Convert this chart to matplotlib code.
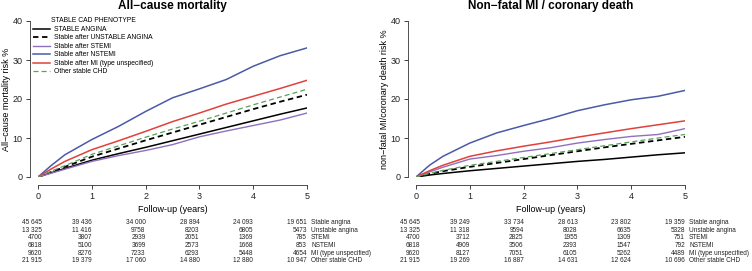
import matplotlib
matplotlib.use("Agg")
import matplotlib.pyplot as plt

plt.rcParams['font.family'] = ['Liberation Sans', 'DejaVu Sans']

# --- follow-up grid (years) ---
years = [0, 0.25, 0.5, 1, 1.5, 2, 2.5, 3, 3.5, 4, 4.5, 5]

# --- cumulative risk %, all-cause mortality ---
mort_angina = [0, 1.1, 2.2, 4.3, 6.0, 7.6, 9.3, 11.0, 12.7, 14.4, 16.1, 17.7]
mort_unstable = [0, 1.3, 2.6, 5.2, 7.3, 9.4, 11.4, 13.4, 15.4, 17.4, 19.3, 21.1]
mort_stemi = [0, 1.0, 2.0, 4.0, 5.5, 6.8, 8.3, 10.3, 11.8, 13.2, 14.6, 16.4]
mort_nstemi = [0, 3.0, 5.7, 9.6, 13.0, 16.8, 20.3, 22.6, 25.0, 28.4, 31.1, 33.1]
mort_mi = [0, 2.1, 4.0, 7.0, 9.3, 11.7, 14.2, 16.4, 18.7, 20.7, 22.7, 24.8]
mort_other = [0, 1.5, 2.9, 5.8, 8.0, 10.2, 12.3, 14.3, 16.4, 18.5, 20.5, 22.5]

# --- cumulative risk %, non-fatal MI / coronary death ---
mi_angina = [0, 0.5, 0.9, 1.6, 2.2, 2.8, 3.4, 4.0, 4.5, 5.1, 5.7, 6.2]
mi_unstable = [0, 0.8, 1.5, 2.6, 3.6, 4.6, 5.6, 6.6, 7.6, 8.5, 9.4, 10.3]
mi_stemi = [0, 1.3, 2.5, 4.6, 5.5, 6.6, 7.5, 8.7, 9.6, 10.4, 10.9, 12.4]
mi_nstemi = [0, 3.0, 5.3, 8.7, 11.3, 13.2, 15.0, 17.0, 18.5, 19.8, 20.7, 22.2]
mi_mi = [0, 1.6, 3.0, 5.3, 6.7, 7.9, 9.0, 10.2, 11.3, 12.4, 13.4, 14.4]
mi_other = [0, 0.9, 1.7, 3.0, 4.0, 5.0, 6.0, 7.0, 8.0, 9.0, 10.0, 10.9]

legend_labels = ["STABLE ANGINA", "Stable after UNSTABLE ANGINA", "Stable after STEMI",
                 "Stable after NSTEMI", "Stable after MI (type unspecified)", "Other stable CHD"]
row_labels = ["Stable angina", "Unstable angina", "STEMI", "NSTEMI",
              "MI (type unspecified)", "Other stable CHD"]

# numbers at risk at 0..5 years
risk_times = [0, 1, 2, 3, 4, 5]
risk_mort = [
    ["45 645", "39 436", "34 000", "28 894", "24 093", "19 651"],
    ["13 325", "11 416", "9758", "8203", "6805", "5473"],
    ["4700", "3807", "2939", "2051", "1369", "785"],
    ["6818", "5100", "3699", "2573", "1668", "853"],
    ["9620", "8276", "7233", "6293", "5448", "4654"],
    ["21 915", "19 379", "17 060", "14 880", "12 880", "10 947"],
]
risk_mi = [
    ["45 645", "39 249", "33 734", "28 613", "23 802", "19 359"],
    ["13 325", "11 318", "9594", "8028", "6635", "5328"],
    ["4700", "3712", "2825", "1955", "1309", "751"],
    ["6818", "4909", "3506", "2393", "1547", "792"],
    ["9620", "8127", "7051", "6105", "5262", "4489"],
    ["21 915", "19 269", "16 887", "14 631", "12 624", "10 696"],
]

styles = [
    dict(color="black", lw=1.1, ls="-"),
    dict(color="black", lw=1.3, ls=(0, (3, 2))),
    dict(color="#8f6fc0", lw=1.0, ls="-"),
    dict(color="#4a5aa8", lw=1.1, ls="-"),
    dict(color="#e0413b", lw=1.1, ls="-"),
    dict(color="#5aa05a", lw=0.9, ls=(0, (4, 2.5))),
]

W, H = 752, 271
fig = plt.figure(figsize=(W / 100, H / 100), dpi=100)


def draw_panel(x_left, title, ylabel, series, risk, show_legend):
    ax = fig.add_axes([x_left / W, 1 - 177 / H, 269 / W, 156 / H])
    handles = []
    for ys, st in zip(series, styles):
        h, = ax.plot(years, ys, **st)
        handles.append(h)
    ax.set_xlim(0, 5)
    ax.set_ylim(0, 40)
    ax.set_xticks(range(6))
    ax.set_yticks([0, 10, 20, 30, 40])
    ax.set_yticklabels(["0", "10", "20", "30", "40"], rotation=90, va="center")
    for s in ["top", "right"]:
        ax.spines[s].set_visible(False)
    ax.spines["left"].set_position(("outward", 6))
    ax.spines["bottom"].set_position(("outward", 6))
    ax.spines["left"].set_bounds(0, 40)
    ax.spines["bottom"].set_bounds(0, 5)
    for s in ["left", "bottom"]:
        ax.spines[s].set_linewidth(0.6)
        ax.spines[s].set_color("#333333")
    ax.tick_params(labelsize=6.5, length=3, width=0.6, pad=2, colors="#222222")
    fig.text((x_left + 134.5) / W, 1 - 6 / H, title, ha="center", va="center",
             fontsize=8.5, fontweight="bold")
    ax.set_xlabel("Follow-up (years)", fontsize=6.5, labelpad=3)
    ax.set_ylabel(ylabel, fontsize=6.5, labelpad=1)

    if show_legend:
        ax.legend(handles, legend_labels, title="STABLE CAD PHENOTYPE",
                  loc="upper left", bbox_to_anchor=(-0.03, 1.04),
                  frameon=False, fontsize=4.9, title_fontsize=4.9,
                  handlelength=2.6, handletextpad=0.6, labelspacing=0.22,
                  borderaxespad=0)

    # numbers-at-risk table
    for r, row in enumerate(risk):
        yy = 1 - (222.7 + r * 7.6) / H
        for t, txt in zip(risk_times, row):
            xx = x_left / W + t * (269 / W) / 5 + (4 / W if t == 0 else 0)
            fig.text(xx, yy, txt, ha="right", va="center", fontsize=4.7, color="#222222")
        fig.text((x_left + 273) / W, yy, row_labels[r], ha="left", va="center",
                 fontsize=4.7, color="#222222")
    return ax


draw_panel(38, "All\u2212cause mortality", "All\u2212cause mortality risk %",
           [mort_angina, mort_unstable, mort_stemi, mort_nstemi, mort_mi, mort_other],
           risk_mort, True)
draw_panel(416, "Non\u2212fatal MI / coronary death", "non\u2212fatal MI/coronary death risk %",
           [mi_angina, mi_unstable, mi_stemi, mi_nstemi, mi_mi, mi_other],
           risk_mi, False)

fig.savefig("out.png", dpi=100)
